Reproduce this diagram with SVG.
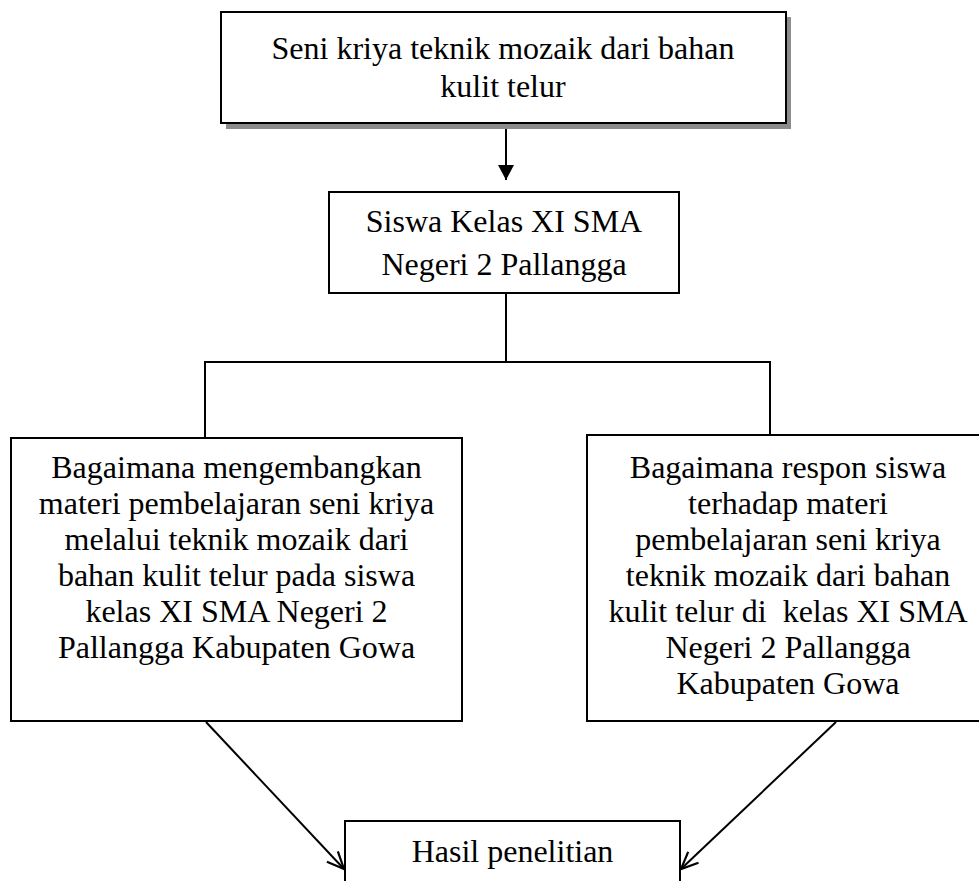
<svg xmlns="http://www.w3.org/2000/svg" width="979" height="881" viewBox="0 0 979 881">
  <style>
    .box { fill: #ffffff; stroke: #000000; stroke-width: 2; }
    .shadow { fill: #8c8c8c; stroke: none; }
    .t { font-family: "Liberation Serif", "Times New Roman", serif; font-size: 32px; fill: #000000; text-anchor: middle; }
    .c { fill: none; stroke: #000000; stroke-width: 2; }
  </style>
  <defs>
    <marker id="solid" markerUnits="userSpaceOnUse" markerWidth="18" markerHeight="18" refX="15" refY="8" orient="auto">
      <path d="M0,0 L15,8 L0,16 Z" fill="#000000"/>
    </marker>
    <marker id="open" markerUnits="userSpaceOnUse" markerWidth="22" markerHeight="20" refX="19" refY="9" orient="auto">
      <path d="M2,1.5 L19,9 L2,16.5" fill="none" stroke="#000000" stroke-width="2.2"/>
    </marker>
  </defs>
  <rect width="979" height="881" fill="#ffffff"/>

  <g id="connectors">
    <line class="c" x1="506" y1="128" x2="506" y2="180" marker-end="url(#solid)"/>
    <line class="c" x1="506" y1="293" x2="506" y2="362"/>
    <line class="c" x1="204" y1="362" x2="771" y2="362"/>
    <line class="c" x1="205" y1="362" x2="205" y2="438"/>
    <line class="c" x1="770" y1="362" x2="770" y2="435"/>
    <line class="c" x1="206" y1="722" x2="344" y2="869" marker-end="url(#open)"/>
    <line class="c" x1="836" y1="722" x2="681" y2="869" marker-end="url(#open)"/>
  </g>

  <g id="node-top">
    <rect class="shadow" x="226" y="17" width="565" height="112"/>
    <rect class="box" x="221" y="12" width="565" height="111"/>
    <text class="t" x="503" y="59">Seni kriya teknik mozaik dari bahan</text>
    <text class="t" x="503" y="97">kulit telur</text>
  </g>

  <g id="node-siswa">
    <rect class="box" x="329" y="192" width="350" height="101"/>
    <text class="t" x="504" y="232">Siswa Kelas XI SMA</text>
    <text class="t" x="504" y="275">Negeri 2 Pallangga</text>
  </g>

  <g id="node-left">
    <rect class="box" x="11" y="438" width="451" height="283"/>
    <text class="t" x="236.5" y="478">Bagaimana mengembangkan</text>
    <text class="t" x="236.5" y="514">materi pembelajaran seni kriya</text>
    <text class="t" x="236.5" y="550">melalui teknik mozaik dari</text>
    <text class="t" x="236.5" y="586">bahan kulit telur pada siswa</text>
    <text class="t" x="236.5" y="622">kelas XI SMA Negeri 2</text>
    <text class="t" x="236.5" y="658">Pallangga Kabupaten Gowa</text>
  </g>

  <g id="node-right">
    <rect class="box" x="587" y="435" width="404" height="286"/>
    <text class="t" x="788" y="478">Bagaimana respon siswa</text>
    <text class="t" x="788" y="514">terhadap materi</text>
    <text class="t" x="788" y="550">pembelajaran seni kriya</text>
    <text class="t" x="788" y="586">teknik mozaik dari bahan</text>
    <text class="t" x="788" y="622" xml:space="preserve">kulit telur di  kelas XI SMA</text>
    <text class="t" x="788" y="658">Negeri 2 Pallangga</text>
    <text class="t" x="788" y="694">Kabupaten Gowa</text>
  </g>

  <g id="node-hasil">
    <rect class="box" x="345" y="821" width="335" height="80"/>
    <text class="t" x="512.5" y="862">Hasil penelitian</text>
  </g>
</svg>
